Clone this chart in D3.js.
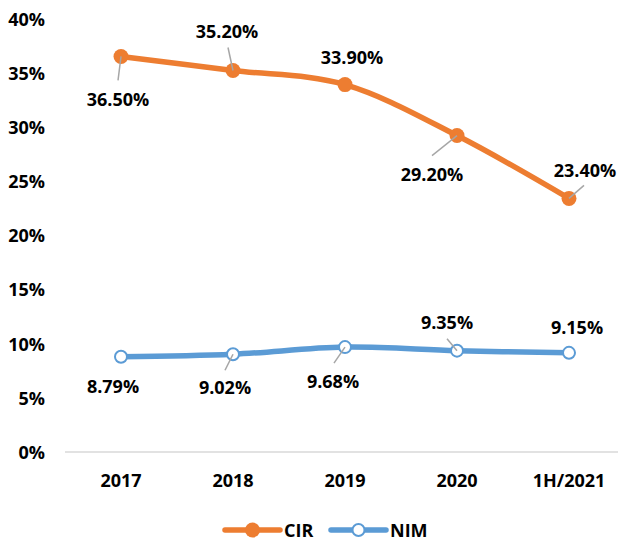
<!DOCTYPE html>
<html>
<head>
<meta charset="utf-8">
<script src="https://cdn.jsdelivr.net/npm/d3@7"></script>
<style>
  body { margin: 0; background: #fff; }
  text { font-family: "Open Sans", sans-serif; font-weight: 700; fill: #000; }
</style>
</head>
<body>
<div id="container"></div>
<script>
// DATA
const categories = ["2017", "2018", "2019", "2020", "1H/2021"];
const cirValues = [36.5, 35.2, 33.9, 29.2, 23.4];
const nimValues = [8.79, 9.02, 9.68, 9.35, 9.15];
const yTicks = [0, 5, 10, 15, 20, 25, 30, 35, 40];

// label offsets from each point (layout only)
const cirLabelOffsets = [[-3, 43], [-6, -40], [7, -28], [-25, 38], [16, -28]];
const nimLabelOffsets = [[-8, 29], [-8, 33], [-12, 34], [-10, -29], [8, -26]];
// leader line ends, null = no leader
const cirLeaders = [[-3, 24], [-5, -23], null, [-25, 20], [15, -13]];
const nimLeaders = [null, [-8, 16], [-11, 16], [-10, -12], null];

//CONSTANTS
const width = 618, height = 541;
const orange = "#ED7D31", blue = "#5B9BD5";

const svg = d3.select("#container")
  .append("svg")
  .attr("width", width)
  .attr("height", height);

//SCALES
const xScale = d3.scaleBand()
  .domain(categories)
  .range([65, 625]);

const yScale = d3.scaleLinear()
  .domain([0, 40])
  .range([452, 18.5]);

const xPos = c => xScale(c) + xScale.bandwidth() / 2;

// y axis labels
svg.append("g")
  .selectAll("text")
  .data(yTicks)
  .join("text")
  .attr("x", 45)
  .attr("y", d => yScale(d))
  .attr("text-anchor", "end")
  .attr("dominant-baseline", "central")
  .style("font-size", "18px")
  .text(d => d + "%");

// x axis line
svg.append("line")
  .attr("x1", 65)
  .attr("x2", 618)
  .attr("y1", yScale(0))
  .attr("y2", yScale(0))
  .attr("stroke", "#d9d9d9")
  .attr("stroke-width", 1.5);

svg.append("g")
  .selectAll("text")
  .data(categories)
  .join("text")
  .attr("x", d => xPos(d))
  .attr("y", 480)
  .attr("text-anchor", "middle")
  .attr("dominant-baseline", "central")
  .style("font-size", "18px")
  .text(d => d);

const lineGen = d3.line()
  .x((d, i) => xPos(categories[i]))
  .y(d => yScale(d))
  .curve(d3.curveCardinal.tension(0));

function drawSeries(values, color, filled, offsets, leaders, fmt) {
  const g = svg.append("g");
  g.append("path")
    .datum(values)
    .attr("fill", "none")
    .attr("stroke", color)
    .attr("stroke-width", 5.5)
    .attr("stroke-linecap", "round")
    .attr("d", lineGen);

  g.selectAll("circle")
    .data(values)
    .join("circle")
    .attr("cx", (d, i) => xPos(categories[i]))
    .attr("cy", d => yScale(d))
    .attr("r", filled ? 7.5 : 6)
    .attr("fill", filled ? color : "#fff")
    .attr("stroke", color)
    .attr("stroke-width", filled ? 0 : 2);

  g.selectAll("line.leader")
    .data(values.map((v, i) => ({v, i, l: leaders[i]})).filter(d => d.l))
    .join("line")
    .attr("class", "leader")
    .attr("x1", d => xPos(categories[d.i]))
    .attr("y1", d => yScale(d.v))
    .attr("x2", d => xPos(categories[d.i]) + d.l[0])
    .attr("y2", d => yScale(d.v) + d.l[1])
    .attr("stroke", "#a6a6a6")
    .attr("stroke-width", 1.5);

  g.selectAll("text")
    .data(values)
    .join("text")
    .attr("x", (d, i) => xPos(categories[i]) + offsets[i][0])
    .attr("y", (d, i) => yScale(d) + offsets[i][1])
    .attr("text-anchor", "middle")
    .attr("dominant-baseline", "central")
    .style("font-size", "18px")
    .text(d => d.toFixed(2) + "%");
}

drawSeries(cirValues, orange, true, cirLabelOffsets, cirLeaders);
drawSeries(nimValues, blue, false, nimLabelOffsets, nimLeaders);

// LEGEND
const legend = [
  {name: "CIR", color: orange, filled: true, x: 225},
  {name: "NIM", color: blue, filled: false, x: 331}
];
const lg = svg.append("g").selectAll("g")
  .data(legend)
  .join("g")
  .attr("transform", d => `translate(${d.x}, 530)`);

lg.append("line")
  .attr("x1", 0).attr("x2", 55)
  .attr("stroke", d => d.color)
  .attr("stroke-width", 5.5)
  .attr("stroke-linecap", "round");

lg.append("circle")
  .attr("cx", 27.5)
  .attr("r", d => d.filled ? 7.5 : 6)
  .attr("fill", d => d.filled ? d.color : "#fff")
  .attr("stroke", d => d.color)
  .attr("stroke-width", d => d.filled ? 0 : 2);

lg.append("text")
  .attr("x", 59)
  .attr("dominant-baseline", "central")
  .style("font-size", "18px")
  .text(d => d.name);
</script>
</body>
</html>
